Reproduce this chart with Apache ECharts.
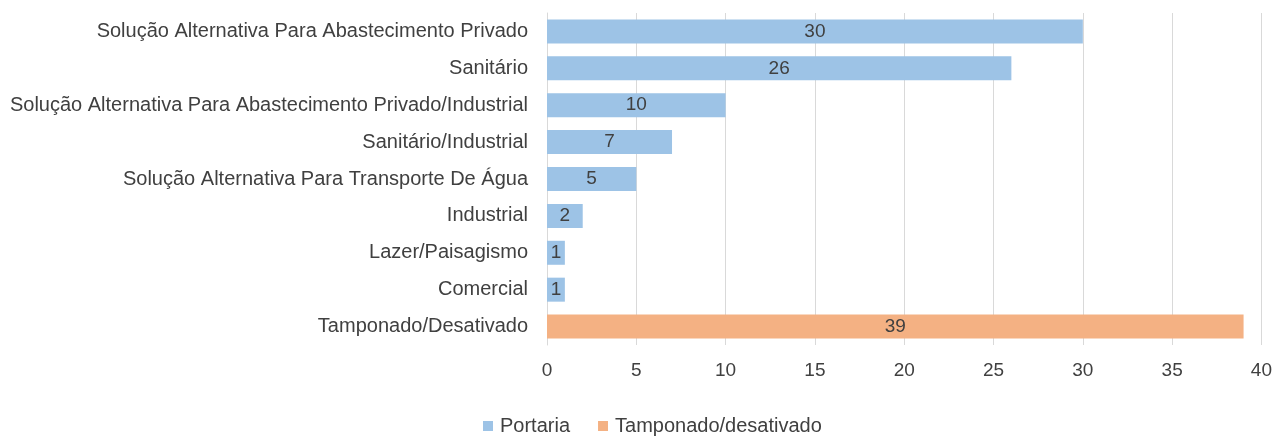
<!DOCTYPE html>
<html>
<head>
<meta charset="utf-8">
<script src="https://cdn.jsdelivr.net/npm/echarts@6/dist/echarts.min.js"></script>
<style>
  html, body { margin: 0; padding: 0; background: #fff; }
  #chart { width: 1275px; height: 436px; }
</style>
</head>
<body>
<div id="chart"></div>
<script>
// categorias (de cima para baixo)
const categories = [
  'Solução Alternativa Para Abastecimento Privado',
  'Sanitário',
  'Solução Alternativa Para Abastecimento Privado/Industrial',
  'Sanitário/Industrial',
  'Solução Alternativa Para Transporte De Água',
  'Industrial',
  'Lazer/Paisagismo',
  'Comercial',
  'Tamponado/Desativado'
];
const portaria = [30, 26, 10, 7, 5, 2, 1, 1, '-'];
const tamponado = ['-', '-', '-', '-', '-', '-', '-', '-', 39];
const seriesNames = ['Portaria', 'Tamponado/desativado'];

const fontFam = 'Liberation Sans, Arial, sans-serif';
let myChart = echarts.init(document.getElementById('chart'));

let labelStyle = {
  show: true,
  position: 'inside',
  color: '#404040',
  fontSize: 19,
  fontFamily: fontFam
};

let option = {
  animation: false,
  textStyle: { fontFamily: fontFam },
  grid: { left: 547, right: 13, top: 13, bottom: 91 },
  legend: {
    top: 411,
    left: 478,
    itemWidth: 10,
    itemHeight: 10,
    itemGap: 28,
    icon: 'rect',
    textStyle: { color: '#404040', fontSize: 20, fontFamily: fontFam, padding: [0, 0, 0, 2] },
    data: seriesNames
  },
  xAxis: {
    type: 'value',
    min: 0,
    max: 40,
    interval: 5,
    axisLine: { show: false },
    axisTick: { show: false },
    axisLabel: { color: '#404040', fontSize: 19, margin: 16, fontFamily: fontFam },
    splitLine: { lineStyle: { color: '#d9d9d9', width: 1 } }
  },
  yAxis: {
    type: 'category',
    inverse: true,
    data: categories,
    axisLine: { show: true, lineStyle: { color: '#d9d9d9' } },
    axisTick: { show: false },
    axisLabel: { color: '#404040', fontSize: 20, margin: 19, fontFamily: fontFam }
  },
  series: [
    {
      name: seriesNames[0],
      type: 'bar',
      stack: 'total',
      barWidth: 24,
      itemStyle: { color: '#9dc3e6' },
      label: labelStyle,
      data: portaria
    },
    {
      name: seriesNames[1],
      type: 'bar',
      stack: 'total',
      barWidth: 24,
      itemStyle: { color: '#f4b183' },
      label: labelStyle,
      data: tamponado
    }
  ]
};

myChart.setOption(option);
</script>
</body>
</html>
